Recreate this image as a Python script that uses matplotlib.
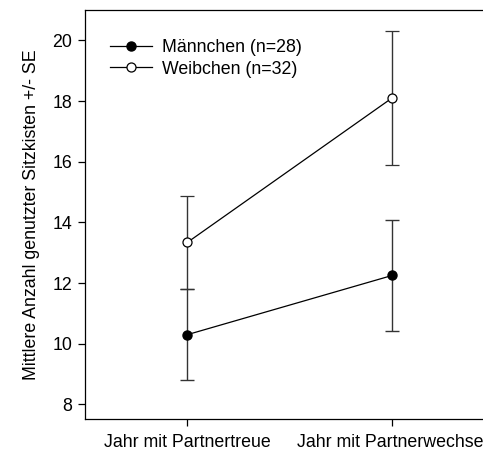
import matplotlib
matplotlib.use("Agg")
import matplotlib.pyplot as plt

plt.rcParams['font.family'] = ['Liberation Sans', 'DejaVu Sans']

categories = ["Jahr mit Partnertreue", "Jahr mit Partnerwechsel"]
maennchen_mean = [10.30, 12.25]
maennchen_se = [1.51, 1.82]
weibchen_mean = [13.34, 18.10]
weibchen_se = [1.54, 2.20]
yticks = [8, 10, 12, 14, 16, 18, 20]

W, H = 483, 454
fs = 12.8
fig = plt.figure(figsize=(W / 100, H / 100), dpi=100)
ax = fig.add_axes([85 / W, 1 - 419 / H, 409.4 / W, 409 / H])

x = [1, 2]
ecol = '#333333'
c1 = ax.errorbar(x, maennchen_mean, yerr=maennchen_se, fmt='-o', color='black',
                 lw=0.9, ms=6.5, mfc='black', mec='black', ecolor=ecol,
                 elinewidth=1.0, capsize=5, capthick=1.0, zorder=3)
c2 = ax.errorbar(x, weibchen_mean, yerr=weibchen_se, fmt='-o', color='black',
                 lw=0.9, ms=6.5, mfc='white', mec='black', mew=0.9, ecolor=ecol,
                 elinewidth=1.0, capsize=5, capthick=1.0, zorder=3)

ax.set_xlim(0.5, 2.5)
ax.set_ylim(7.52, 21.0)
ax.set_yticks(yticks)
ax.set_xticks(x)
ax.set_xticklabels(categories)
ax.tick_params(direction='out', length=4.8, width=0.9, labelsize=fs)
ax.tick_params(axis='y', pad=4.3)
ax.tick_params(axis='x', pad=6.2)
for s in ax.spines.values():
    s.set_linewidth(0.9)
ax.set_ylabel('Mittlere Anzahl genutzter Sitzkisten +/- SE', fontsize=fs, labelpad=9)

leg = ax.legend([c1.lines[0], c2.lines[0]], ['Männchen (n=28)', 'Weibchen (n=32)'],
                loc='upper left', bbox_to_anchor=(0.061, 0.929), frameon=False,
                fontsize=fs, handlelength=2.35, handletextpad=0.55,
                labelspacing=0.26, borderpad=0, borderaxespad=0)

fig.savefig('out.png', dpi=100)
